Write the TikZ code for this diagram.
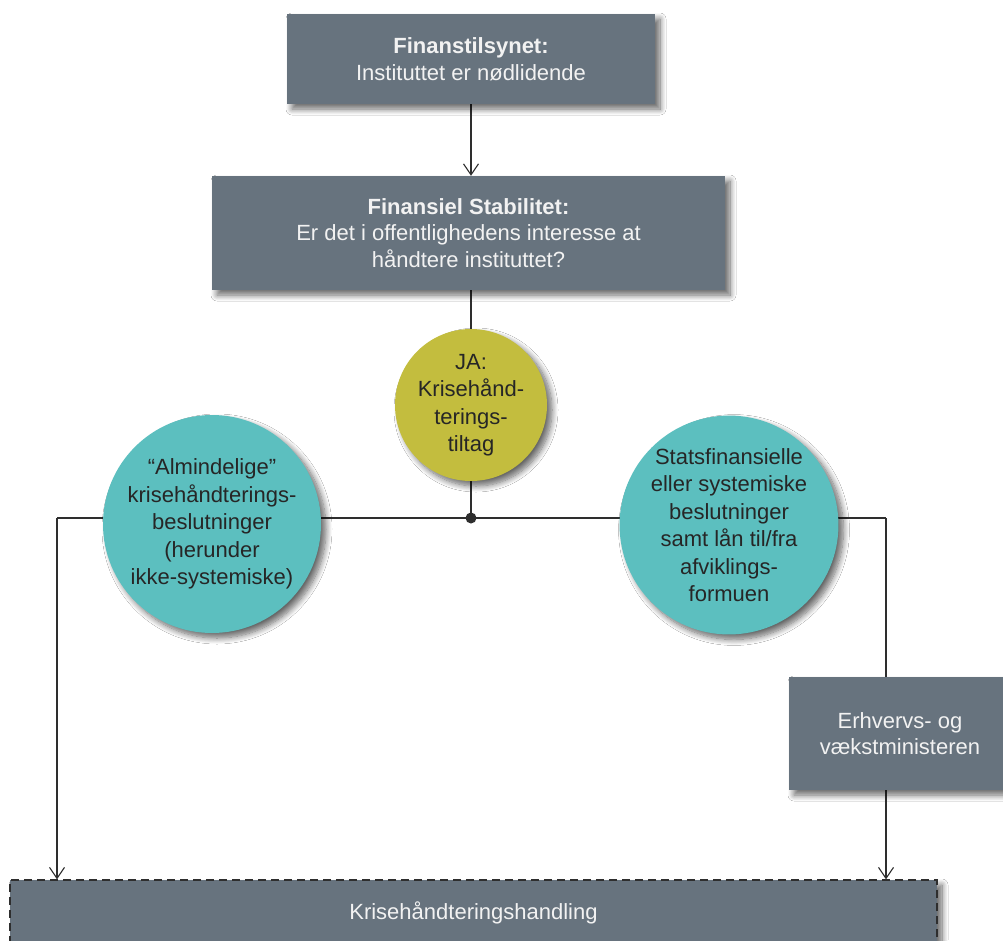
\documentclass[tikz,border=0pt]{standalone}
\usepackage{fontspec}
\setmainfont{Liberation Sans}
\usetikzlibrary{shadows.blur,arrows.meta,backgrounds}
\definecolor{boxgray}{HTML}{67737E}
\definecolor{tealc}{HTML}{5CBFBF}
\definecolor{olivec}{HTML}{C3BD3E}
\definecolor{linec}{HTML}{2E2E2E}
\definecolor{boxtext}{HTML}{F2F2F2}
\definecolor{circtext}{HTML}{262626}
\tikzset{
  shad/.style={blur shadow={shadow xshift=5pt, shadow yshift=-5pt, shadow blur radius=6pt,
    shadow blur steps=10, shadow opacity=60}},
  graybox/.style={rectangle, fill=boxgray, text=boxtext, align=center, inner sep=0pt,
    font=\fontsize{22}{26.5}\selectfont, shad},
  circ/.style={circle, inner sep=0pt, align=center, text=circtext,
    font=\fontsize{22}{27.5}\selectfont, shad},
  conn/.style={draw=linec, line width=1.1pt},
  arr/.style={conn, -{Straight Barb[length=11pt,width=15pt,line width=1.1pt]}},
}
\begin{document}
\begin{tikzpicture}[x=1pt,y=-1pt]
\useasboundingbox (0,0) rectangle (1003,940);
\clip (0,0) rectangle (1003,940);

\node[graybox, minimum width=368pt, minimum height=90pt] (fin) at (471,59)
  {\textbf{Finanstilsynet:}\\Instituttet er nødlidende};
\node[graybox, minimum width=513pt, minimum height=114pt] (stab) at (468.5,233)
  {\textbf{Finansiel Stabilitet:}\\Er det i offentlighedens interesse at\\håndtere instituttet?};
\node[circ, fill=olivec, minimum size=152pt] (ja) at (471,405)
  {JA:\\Krisehånd-\\terings-\\tiltag};
\node[circ, fill=tealc, minimum size=218pt] (alm) at (212,524)
  {“Almindelige”\\krisehåndterings-\\beslutninger\\(herunder\\ikke-systemiske)};
\node[circ, fill=tealc, minimum size=218pt] (stat) at (729,525)
  {Statsfinansielle\\eller systemiske\\beslutninger\\samt lån til/fra\\afviklings-\\formuen};
\node[graybox, minimum width=222pt, minimum height=113pt] (erh) at (900,733.5)
  {Erhvervs- og\\vækstministeren};
\node[graybox, draw=linec, line width=1.3pt, dash pattern=on 8pt off 5pt,
  minimum width=927pt, minimum height=66pt] (kh) at (473.5,913)
  {Krisehåndteringshandling};
\fill[linec] (471,518) circle (5.5pt);
\node[circle, inner sep=0pt, minimum size=11pt] (dot) at (471,518) {};
\coordinate (L) at (57,518);
\coordinate (R) at (886,518);

\begin{scope}[on background layer]
\fill[white] (0,0) rectangle (1003,940);
\draw[arr] (fin.south) -- (fin.south |- stab.north);
\draw[conn] (ja.north |- stab.south) -- (ja.north);
\draw[conn] (ja.south) -- (dot.center);
\draw[conn] (L) -- (R);
\draw[arr] (L) -- (L |- kh.north);
\draw[conn] (R) -- (R |- erh.north);
\draw[arr] (R |- erh.south) -- (R |- kh.north);
\end{scope}
\end{tikzpicture}
\end{document}
